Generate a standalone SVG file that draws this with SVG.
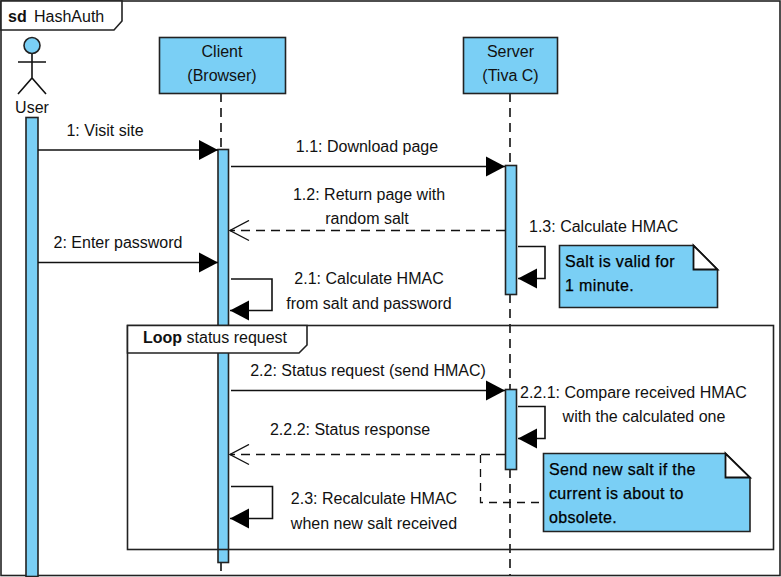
<svg xmlns="http://www.w3.org/2000/svg" width="781" height="577" viewBox="0 0 781 577">
<style>
text{font-family:"Liberation Sans",Arial,sans-serif;font-size:16px;fill:#111}
.m{text-anchor:middle}
.b{font-weight:bold}
.box{fill:#7ACFF5;stroke:#111;stroke-width:2}
.box2{fill:#7ACFF5;stroke:#222;stroke-width:1.6}
.ln{fill:none;stroke:#111;stroke-width:1.6}
.d{fill:none;stroke:#111;stroke-width:1.6;stroke-dasharray:9 6}
.n{fill:#000;stroke:#000;stroke-width:1}
.t{fill:#000;font-size:16px;letter-spacing:.35px;stroke:#000;stroke-width:.25}
</style>
<defs>
<marker id="solid" markerUnits="userSpaceOnUse" markerWidth="22" markerHeight="22" refX="20" refY="11" orient="auto"><path d="M1 1L20 11L1 21Z" fill="#000"/></marker>
<marker id="open" markerUnits="userSpaceOnUse" markerWidth="22" markerHeight="22" refX="20" refY="11" orient="auto"><path d="M1 1L20 11L1 21" fill="none" stroke="#111" stroke-width="1.4"/></marker>
</defs>
<rect width="781" height="577" fill="#fff"/>
<g id="frame">
<rect x="1" y="1" width="779" height="574.500" fill="none" stroke="#222" stroke-width="1.600"/>
<path d="M1 1H122V21L114 30H1Z" fill="#fff" stroke="#222" stroke-width="1.600"/>
<text x="8" y="22" class="b">sd</text><text x="34" y="22">HashAuth</text>
</g>
<g id="lifelines">
<line x1="221" y1="93" x2="221" y2="149" class="d"/>
<line x1="221" y1="562" x2="221" y2="576" class="d"/>
<line x1="510" y1="93" x2="510" y2="165" class="d"/>
<line x1="510" y1="294" x2="510" y2="389" class="d"/>
<line x1="510" y1="469" x2="510" y2="575" class="d"/>
</g>
<g id="user">
<circle cx="32" cy="45.500" r="8" class="box2"/>
<path d="M32 54V78M18 62H46M18 94L32 78L46 94" class="ln"/>
<text x="32" y="113" class="m">User</text>
<rect x="26" y="117.500" width="12" height="459" class="box2"/>
</g>
<g id="client">
<rect x="159.500" y="37.500" width="126" height="56" class="box2"/>
<text x="222" y="57" class="m">Client</text><text x="222" y="81" class="m">(Browser)</text>
<rect x="218" y="149.500" width="10.500" height="413" class="box2"/>
</g>
<g id="server">
<rect x="463.500" y="37.500" width="94" height="56" class="box2"/>
<text x="510.500" y="57" class="m">Server</text><text x="510.500" y="81" class="m">(Tiva C)</text>
<rect x="505.500" y="165.500" width="11" height="129" class="box2"/>
<rect x="505.500" y="389.500" width="11" height="80" class="box2"/>
</g>
<g id="loop">
<rect x="127.500" y="325.500" width="646" height="224" fill="none" stroke="#222" stroke-width="1.600"/>
<path d="M127.500 325.500H307V345L299 353H127.500Z" fill="#fff" stroke="#222" stroke-width="1.600"/>
<text x="143" y="343"><tspan class="b">Loop</tspan> status request</text>
</g>
<g id="connectors">
<line x1="38" y1="150" x2="218" y2="150" class="ln" marker-end="url(#solid)"/>
<line x1="231" y1="166.500" x2="505" y2="166.500" class="ln" marker-end="url(#solid)"/>
<line x1="505" y1="230.500" x2="230" y2="230.500" class="d" marker-end="url(#open)"/>
<line x1="38" y1="262.500" x2="218" y2="262.500" class="ln" marker-end="url(#solid)"/>
<path d="M518 246.500H545V278.500H518" class="ln" marker-end="url(#solid)"/>
<path d="M231 279H272V310.500H230" class="ln" marker-end="url(#solid)"/>
<line x1="231" y1="390.500" x2="505" y2="390.500" class="ln" marker-end="url(#solid)"/>
<path d="M518 406.500H545V438.500H518" class="ln" marker-end="url(#solid)"/>
<line x1="505" y1="454.500" x2="230" y2="454.500" class="d" marker-end="url(#open)"/>
<path d="M231 486.500H272.500V518.500H230" class="ln" marker-end="url(#solid)"/>
<path d="M480.500 455V502.500H543" fill="none" stroke="#111" stroke-width="1.300" stroke-dasharray="8 6"/>
</g>
<g id="labels">
<text x="105" y="136" class="m">1: Visit site</text>
<text x="367" y="152" class="m">1.1: Download page</text>
<text x="369" y="200" class="m">1.2: Return page with</text>
<text x="367" y="224" class="m">random salt</text>
<text x="118" y="248" class="m">2: Enter password</text>
<text x="529" y="232">1.3: Calculate HMAC</text>
<text x="369" y="284" class="m">2.1: Calculate HMAC</text>
<text x="369" y="309" class="m">from salt and password</text>
<text x="368" y="376" class="m">2.2: Status request (send HMAC)</text>
<text x="520" y="398">2.2.1: Compare received HMAC</text>
<text x="644" y="422" class="m">with the calculated one</text>
<text x="350" y="435" class="m">2.2.2: Status response</text>
<text x="374" y="504" class="m">2.3: Recalculate HMAC</text>
<text x="374" y="529" class="m">when new salt received</text>
</g>
<g id="note1">
<path d="M559.500 245.500H693.500L717.500 269.500V307.500H559.500Z" class="box2"/>
<path d="M693.500 245.500V269.500H717.500Z" fill="#fff" stroke="#111" stroke-width="1.800"/>
<text x="565" y="267" class="t">Salt is valid for</text><text x="565" y="291" class="t">1 minute.</text>
</g>
<g id="note2">
<path d="M543.500 453.500H725.500L750 477.500V531.500H543.500Z" class="box2"/>
<path d="M725.500 453.500V477.500H750Z" fill="#fff" stroke="#111" stroke-width="1.800"/>
<text x="549" y="475" class="t">Send new salt if the</text><text x="549" y="499" class="t">current is about to</text><text x="549" y="523" class="t">obsolete.</text>
</g>
</svg>
